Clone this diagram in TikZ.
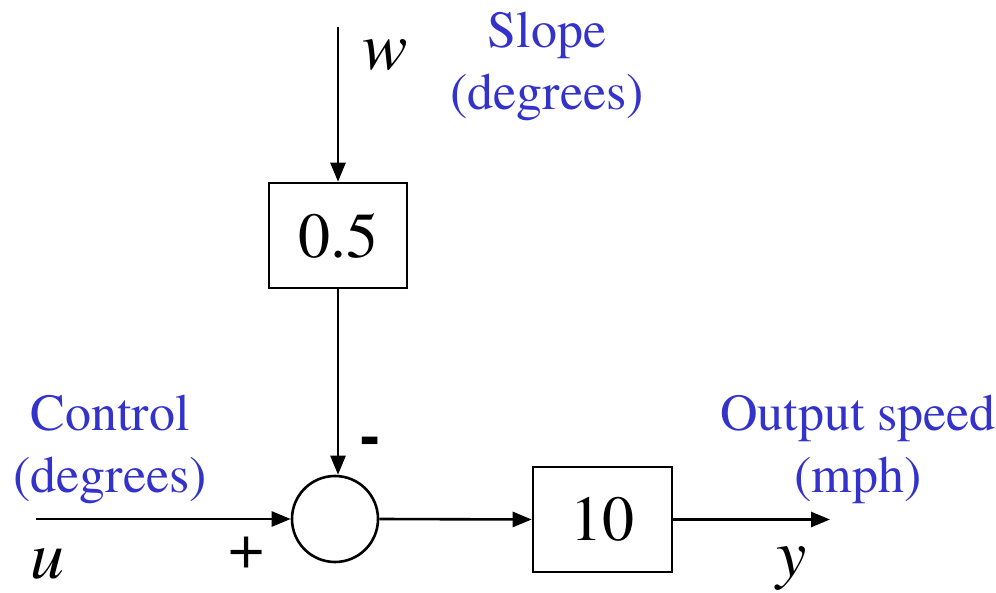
\documentclass[tikz,border=0pt]{standalone}
\usepackage{fontspec}
\setmainfont{TeX Gyre Termes}
\usetikzlibrary{arrows.meta}
\definecolor{lblue}{RGB}{51,51,204}
\begin{document}
\begin{tikzpicture}[x=1pt,y=-1pt,
  blk/.style={draw,line width=2.6pt,minimum width=138pt,minimum height=105pt,inner sep=0pt,font=\fontsize{64}{64}\selectfont},
  sumnode/.style={draw,circle,line width=2.6pt,minimum size=86pt,inner sep=0pt},
  sig/.style={line width=2.6pt,-{Triangle[length=19pt,width=15pt]}},
  lbl/.style={text=lblue,font=\fontsize{52}{62}\selectfont,align=center,inner sep=0pt},
  var/.style={font=\fontsize{68}{68}\selectfont\itshape,inner sep=0pt},
  sgn/.style={font=\fontsize{64}{64}\selectfont,inner sep=0pt}]
\useasboundingbox (0,0) rectangle (996,593);
\node[blk] (k) at (338,235.5) {0.5};
\node[sumnode] (s) at (335,519) {};
\node[blk,minimum width=139pt] (g) at (602.5,519.5) {10};
\coordinate (win) at (338,27);
\coordinate (uin) at (36,519);
\coordinate (yout) at (830,519.5);
\draw[sig] (win) -- (k.north);
\draw[sig] (k.south) -- (k.south |- s.north);
\draw[sig] (uin) -- (s.west);
\draw[sig] (s.east) -- (g.west);
\draw[sig] (g.east) -- (yout);
\node[var] (w) at (385,55) {w};
\node[var] (u) at (47,564) {u};
\node[var] (y) at (792,569) {y};
\node[sgn] (plus) at (247,553) {+};
\node[sgn,font=\fontsize{64}{64}\selectfont\bfseries] (minus) at (370,446) {-};
\node[lbl] (slope) at (547,66) {Slope\\(degrees)};
\node[lbl] (ctrl) at (110,449) {Control\\(degrees)};
\node[lbl] (outs) at (858,449) {Output speed\\(mph)};
\end{tikzpicture}
\end{document}
